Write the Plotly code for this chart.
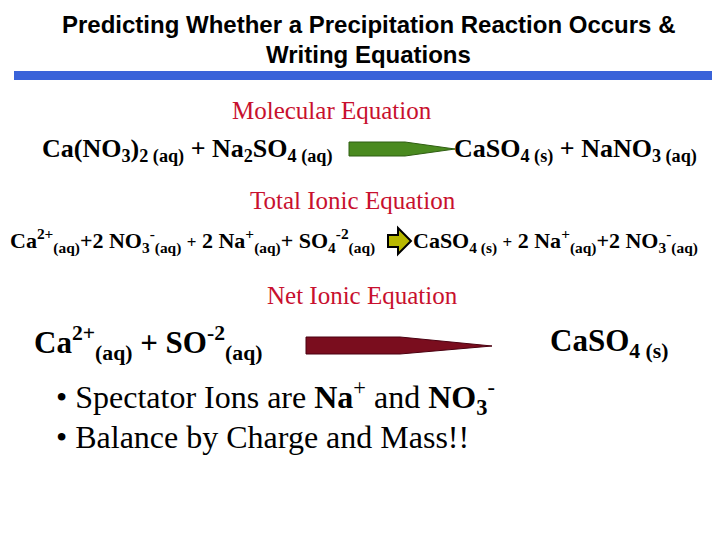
import plotly.graph_objects as go

# slide text
title_lines = ["Predicting Whether a Precipitation Reaction Occurs &", "Writing Equations"]
headings = ["Molecular Equation", "Total Ionic Equation", "Net Ionic Equation"]
molecular_left = "Ca(NO<sub>3</sub>)<sub>2 (aq)</sub> + Na<sub>2</sub>SO<sub>4 (aq)</sub>"
molecular_right = "CaSO<sub>4 (s)</sub> + NaNO<sub>3 (aq)</sub>"
ionic_left = ("Ca<sup>2+</sup><sub>(aq)</sub>+2 NO<sub>3</sub><sup>-</sup><sub>(aq)</sub> "
              "<span style='font-size:17px'>+</span> 2 Na<sup>+</sup><sub>(aq)</sub>+ SO<sub>4</sub><sup>-2</sup><sub>(aq)</sub>")
ionic_right = ("CaSO<sub>4 (s)</sub> <span style='font-size:17px'>+</span> 2 Na<sup>+</sup><sub>(aq)</sub>"
               "+2 NO<sub>3</sub><sup>-</sup><sub>(aq)</sub>")
net_left = "Ca<sup>2+</sup><sub>(aq)</sub> + SO<sup>-2</sup><sub>(aq)</sub>"
net_right = "CaSO<sub>4 (s)</sub>"
bullets = ["• Spectator Ions are <b>Na</b><sup>+</sup> and <b>NO<sub>3</sub></b><sup>-</sup>",
           "• Balance by Charge and Mass!!"]

SERIF = "Liberation Serif"
RED = "#c8102e"

fig = go.Figure()
# page body has an 8px margin, so shift the coordinate frame to match window pixels
fig.update_xaxes(range=[8, 728], visible=False, fixedrange=True)
fig.update_yaxes(range=[548, 8], visible=False, fixedrange=True)

def txt(x, y, s, size, color="black", font=SERIF, anchor="left", bold=True):
    fig.add_annotation(x=x, y=y, text=("<b>%s</b>" % s) if bold else s, showarrow=False,
                       xanchor=anchor, yanchor="middle",
                       font=dict(family=font, size=size, color=color))

txt(368, 24, title_lines[0], 24, font="Liberation Sans", anchor="center")
txt(368, 54, title_lines[1], 24, font="Liberation Sans", anchor="center")

fig.add_shape(type="rect", x0=14, x1=728, y0=71, y1=80, fillcolor="#3a63d9", line_width=0)

txt(332, 110, headings[0], 25, color=RED, anchor="center", bold=False)
txt(40, 150, molecular_left, 26)
txt(452, 150, molecular_right, 26)
fig.add_shape(type="path", path="M 349 142 L 405 142 L 455 149 L 405 156 L 349 156 Z",
              fillcolor="#4a8a1f", line=dict(color="#2f5e12", width=1))

txt(353, 200, headings[1], 25, color=RED, anchor="center", bold=False)
txt(8, 241, ionic_left, 22)
txt(411, 241, ionic_right, 22)
fig.add_shape(type="path",
              path="M 388 235 L 398 235 L 398 228 L 411 241 L 398 254 L 398 247 L 388 247 Z",
              fillcolor="#b8b800", line=dict(color="black", width=2))

txt(362, 295, headings[2], 25, color=RED, anchor="center", bold=False)
txt(32, 343, net_left, 31)
txt(548, 343, net_right, 31)
fig.add_shape(type="path", path="M 306 337 L 400 337 L 492 346 L 400 354 L 306 354 Z",
              fillcolor="#7a0d1e", line=dict(color="#4a0010", width=1))

txt(54, 397, bullets[0], 32, bold=False)
txt(54, 437, bullets[1], 32, bold=False)

fig.update_layout(width=720, height=540, margin=dict(l=0, r=0, t=0, b=0),
                  plot_bgcolor="white", paper_bgcolor="white", showlegend=False)
fig.write_html("out.html")
